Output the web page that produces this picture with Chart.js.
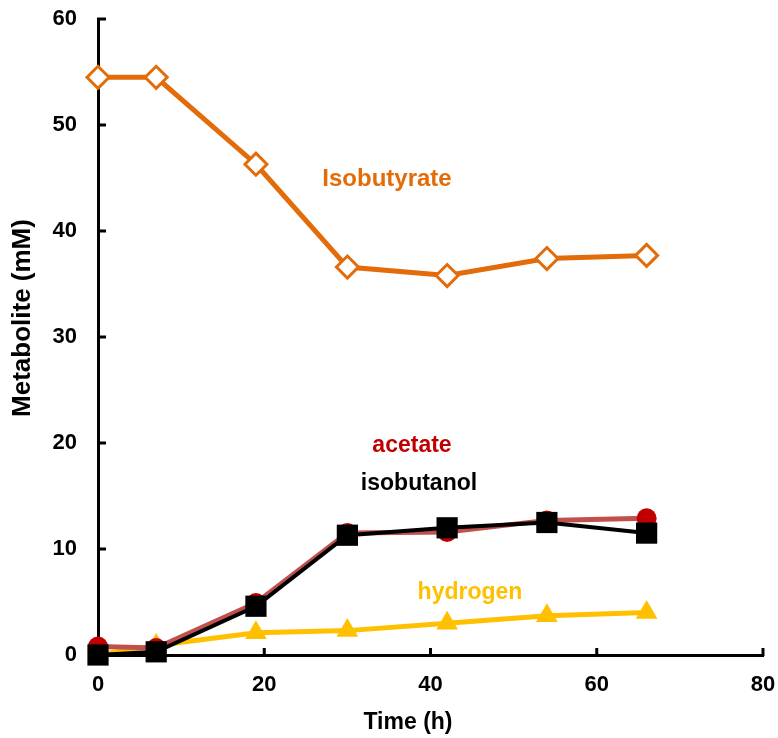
<!DOCTYPE html>
<html>
<head>
<meta charset="utf-8">
<script src="https://cdn.jsdelivr.net/npm/chart.js@4/dist/chart.umd.min.js"></script>
<style>
  html, body { margin: 0; padding: 0; background: #fff; }
  #wrap { width: 778px; height: 738px; }
</style>
</head>
<body>
<div id="wrap"><canvas id="c" width="778" height="738"></canvas></div>
<script>
// ---- data ----
const timeH = [0, 7, 19, 30, 42, 54, 66];
const isobutyrate = [54.5, 54.5, 46.3, 36.6, 35.8, 37.4, 37.7];
const acetate = [0.8, 0.65, 4.9, 11.5, 11.6, 12.7, 12.9];
const isobutanol = [0.0, 0.3, 4.6, 11.3, 12.0, 12.5, 11.5];
const hydrogen = [0.0, 0.9, 2.1, 2.3, 3.0, 3.7, 4.0];
const xTicks = [0, 20, 40, 60, 80];
const yTicks = [0, 10, 20, 30, 40, 50, 60];
const seriesLabels = ['Isobutyrate', 'acetate', 'isobutanol', 'hydrogen'];
const axisTitles = { x: 'Time (h)', y: 'Metabolite (mM)' };

const toPts = (ys) => timeH.map((t, i) => ({ x: t, y: ys[i] }));
const FONT = '"Liberation Sans", Arial, sans-serif';

const insideTicks = {
  id: 'insideTicks',
  beforeDatasetsDraw(chart) {
    const { ctx, scales: { x, y } } = chart;
    ctx.save();
    ctx.strokeStyle = '#000';
    ctx.lineWidth = 3;
    const x0 = x.getPixelForValue(0);
    const y0 = y.getPixelForValue(0);
    xTicks.forEach(v => {
      const px = x.getPixelForValue(v);
      if (v === 0) return;
      ctx.beginPath(); ctx.moveTo(px, y0 + 1); ctx.lineTo(px, y0 - 7); ctx.stroke();
    });
    yTicks.forEach(v => {
      const py = y.getPixelForValue(v);
      if (v === 0) return;
      ctx.beginPath(); ctx.moveTo(x0 - 1, py); ctx.lineTo(x0 + 8, py); ctx.stroke();
    });
    ctx.restore();
  },
  afterDraw(chart) {
    const { ctx } = chart;
    ctx.save();
    ctx.textAlign = 'center';
    ctx.textBaseline = 'middle';
    ctx.fillStyle = '#000';
    ctx.font = 'bold 23px ' + FONT;
    ctx.fillText(axisTitles.x, 408, 723);
    ctx.save();
    ctx.translate(23, 318);
    ctx.rotate(-Math.PI / 2);
    ctx.font = 'bold 26px ' + FONT;
    ctx.fillText(axisTitles.y, 0, 0);
    ctx.restore();
    ctx.font = 'bold 24px ' + FONT;
    ctx.fillStyle = '#E36C0A'; ctx.fillText(seriesLabels[0], 387, 179);
    ctx.font = 'bold 23px ' + FONT;
    ctx.fillStyle = '#C00000'; ctx.fillText(seriesLabels[1], 412, 446);
    ctx.fillStyle = '#000000'; ctx.fillText(seriesLabels[2], 419, 484);
    ctx.fillStyle = '#FFC000'; ctx.fillText(seriesLabels[3], 470, 593);
    ctx.restore();
  }
};

new Chart(document.getElementById('c'), {
  type: 'line',
  data: {
    datasets: [
      {
        label: seriesLabels[2], data: toPts(isobutanol),
        borderColor: '#000', backgroundColor: '#000', borderWidth: 4,
        pointStyle: 'rect', pointRadius: 15, pointBorderWidth: 0,
        pointBackgroundColor: '#000', pointHoverRadius: 15
      },
      {
        label: seriesLabels[1], data: toPts(acetate),
        borderColor: '#C0504D', backgroundColor: '#C00000', borderWidth: 5,
        pointStyle: 'circle', pointRadius: 10, pointBorderWidth: 0,
        pointBackgroundColor: '#C00000', pointHoverRadius: 10
      },
      {
        label: seriesLabels[3], data: toPts(hydrogen),
        borderColor: '#FFC000', backgroundColor: '#FFC000', borderWidth: 5,
        pointStyle: 'triangle', pointRadius: 12.5, pointBorderWidth: 0,
        pointBackgroundColor: '#FFC000', pointHoverRadius: 12.5
      },
      {
        label: seriesLabels[0], data: toPts(isobutyrate),
        borderColor: '#E36C0A', backgroundColor: '#fff', borderWidth: 5,
        pointStyle: 'rectRot', pointRadius: 11, pointBorderWidth: 3,
        pointBorderColor: '#E36C0A', pointBackgroundColor: '#fff', pointHoverRadius: 11
      }
    ]
  },
  options: {
    responsive: false,
    animation: false,
    events: [],
    clip: false,
    layout: { padding: { top: 19, right: 15, left: 0, bottom: 0 } },
    plugins: { legend: { display: false }, tooltip: { enabled: false } },
    elements: { line: { tension: 0 } },
    scales: {
      x: {
        type: 'linear', min: 0, max: 80,
        afterFit(s) { s.height = 83; s.paddingLeft = 0; s.paddingRight = 0; },
        afterBuildTicks(s) { s.ticks = xTicks.map(v => ({ value: v })); },
        grid: { display: true, drawOnChartArea: false, drawTicks: false },
        border: { display: true, color: '#000', width: 3 },
        ticks: { color: '#000', padding: 17, font: { family: FONT, size: 22, weight: 'bold' }, maxRotation: 0 }
      },
      y: {
        type: 'linear', min: 0, max: 60,
        afterFit(s) { s.width = 98; s.paddingTop = 0; s.paddingBottom = 0; },
        afterBuildTicks(s) { s.ticks = yTicks.map(v => ({ value: v })); },
        grid: { display: true, drawOnChartArea: false, drawTicks: false },
        border: { display: true, color: '#000', width: 3 },
        ticks: { color: '#000', padding: 21, font: { family: FONT, size: 22, weight: 'bold' } }
      }
    }
  },
  plugins: [insideTicks]
});
</script>
</body>
</html>
